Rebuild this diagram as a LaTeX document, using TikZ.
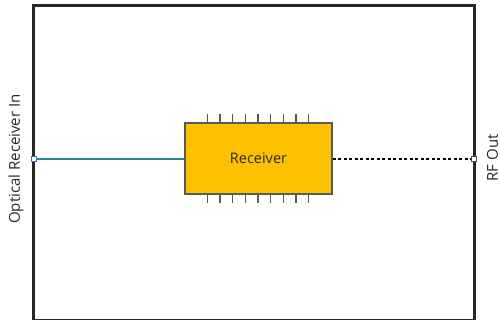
\documentclass[tikz,border=0pt]{standalone}
\usepackage{fontspec}
\setmainfont{Open Sans}
\usetikzlibrary{calc}
\begin{document}
\begin{tikzpicture}[x=1pt,y=-1pt,
  frame/.style={draw=black!85,line width=3.5pt},
  port/.style={draw=#1,fill=white,line width=1pt,minimum size=5pt,inner sep=0pt},
  rxbox/.style={draw=black!65,fill=rxyellow,line width=1.5pt,minimum width=147pt,minimum height=71pt,inner sep=0pt,font=\fontsize{14.5pt}{16pt}\selectfont,text=black!85},
  pin/.style={draw=black!65,line width=1.3pt},
  lbl/.style={font=\fontsize{#1}{16pt}\selectfont,rotate=90,text=black!85,inner sep=1pt},
  optline/.style={draw=optteal,line width=1.3pt},
  rfline/.style={draw=black,line width=1.3pt,dash pattern=on 3pt off 2.5pt}]
\definecolor{rxyellow}{HTML}{FFC000}
\definecolor{optteal}{HTML}{2A8A9A}
\definecolor{portblue}{HTML}{2E75B6}
\useasboundingbox (0,0) rectangle (500,320);
\draw[frame] (33.5,5.5) rectangle (474.5,321);
\node[rxbox] (rx) at (258.5,158.5) {Receiver};
\foreach \i in {0,...,8}{
  \draw[pin] ($(207.3,114)+(\i*12.67,0)$) -- ++(0,9);
  \draw[pin] ($(207.3,194)+(\i*12.67,0)$) -- ++(0,9);
}
\node[port=portblue] (pin) at (34,159) {};
\node[port=black!70] (pout) at (474,159) {};
\draw[optline] (pin.east) -- (rx.west |- pin.east);
\draw[rfline] (rx.east |- pout.west) -- (pout.west);
\node[lbl=15pt] (lin) at (16,159) {Optical Receiver In};
\node[lbl=15pt] (lout) at (492.5,158) {RF Out};
\end{tikzpicture}
\end{document}
